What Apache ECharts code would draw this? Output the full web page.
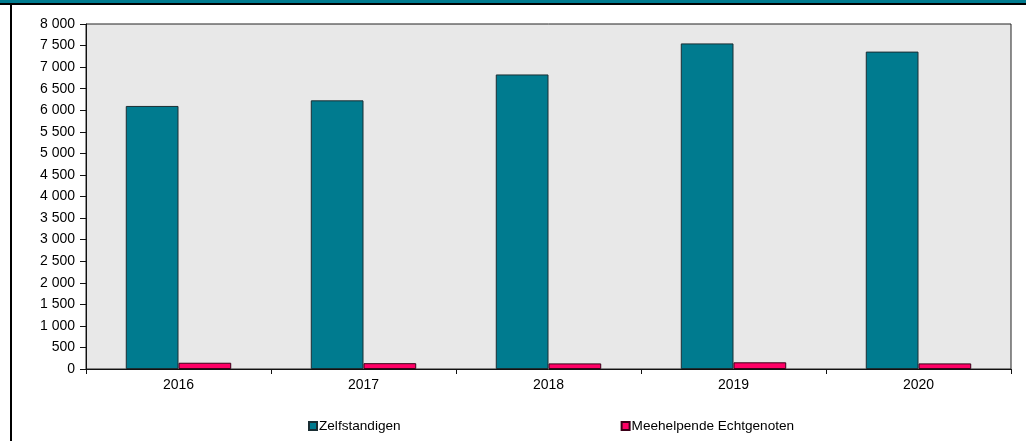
<!DOCTYPE html>
<html>
<head>
<meta charset="utf-8">
<script src="https://cdn.jsdelivr.net/npm/echarts@6/dist/echarts.min.js"></script>
<style>
  html, body { margin: 0; padding: 0; background: #fff; }
  #chart { width: 1026px; height: 441px; }
</style>
</head>
<body>
<div id="chart"></div>
<script>
// jaren op de x-as
var years = ['2016', '2017', '2018', '2019', '2020'];
var zelfstandigen = [6100, 6230, 6830, 7550, 7360];
var meehelpend = [145, 135, 130, 155, 130];
var seriesNames = ['Zelfstandigen', 'Meehelpende Echtgenoten'];

var chart = echarts.init(document.getElementById('chart'));

function fmt(v) {
  return String(v).replace(/\B(?=(\d{3})+(?!\d))/g, ' ');
}

var option = {
  animation: false,
  textStyle: { fontFamily: 'Liberation Sans, Arial, sans-serif' },
  graphic: [
    { type: 'rect', shape: { x: 0, y: 0, width: 1026, height: 3 }, style: { fill: '#007b8f' } },
    { type: 'rect', shape: { x: 0, y: 3, width: 1026, height: 2 }, style: { fill: '#000' } },
    { type: 'rect', shape: { x: 10, y: 3, width: 2, height: 438 }, style: { fill: '#000' } }
  ],
  grid: {
    left: 86, right: 15, top: 24, bottom: 72,
    show: true, backgroundColor: '#e8e8e8', borderColor: '#222', borderWidth: 1
  },
  legend: {
    left: 303, top: 414,
    itemWidth: 8, itemHeight: 8, itemGap: 220,
    icon: 'rect',
    textStyle: { fontSize: 13.6, color: '#000', padding: [0, 0, 0, -3] },
    data: seriesNames
  },
  xAxis: {
    type: 'category',
    data: years,
    axisLine: { lineStyle: { color: '#111', width: 1 } },
    axisTick: { show: true, length: 5, lineStyle: { color: '#111' } },
    axisLabel: { color: '#000', fontSize: 14, margin: 9 }
  },
  yAxis: {
    type: 'value',
    min: 0, max: 8000, interval: 500,
    splitLine: { show: false },
    axisLine: { show: true, lineStyle: { color: '#111' } },
    axisTick: { show: true, length: 6, lineStyle: { color: '#111' } },
    axisLabel: { color: '#000', fontSize: 14, margin: 11, formatter: fmt }
  },
  series: [
    {
      name: seriesNames[0], type: 'bar', data: zelfstandigen,
      barGap: '0%', barCategoryGap: '43%',
      itemStyle: { color: '#007b8f', borderColor: '#1a2e33', borderWidth: 1 }
    },
    {
      name: seriesNames[1], type: 'bar', data: meehelpend,
      itemStyle: { color: '#ff0066', borderColor: '#3a0018', borderWidth: 1 }
    }
  ]
};

chart.setOption(option);
</script>
</body>
</html>
